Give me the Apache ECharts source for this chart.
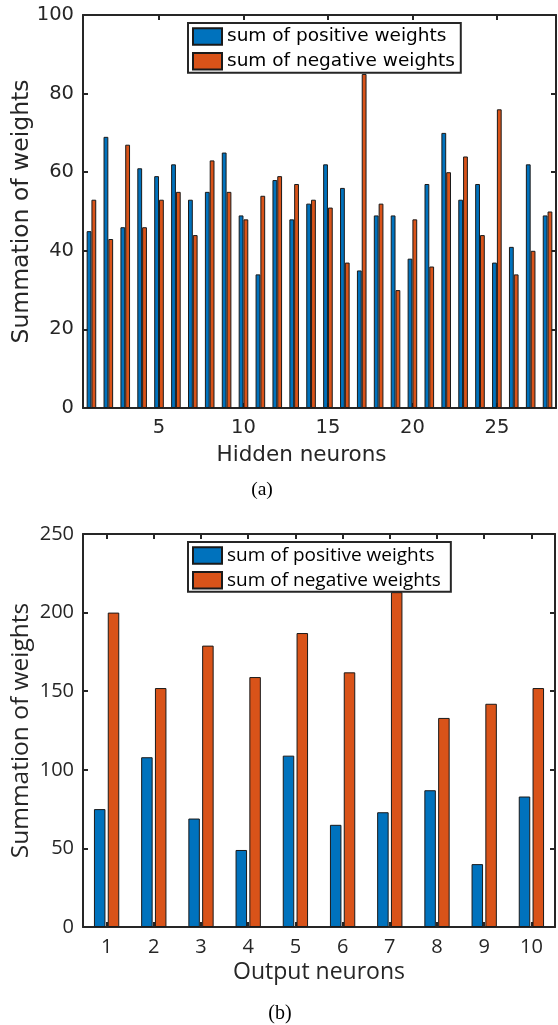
<!DOCTYPE html>
<html>
<head>
<meta charset="utf-8">
<script src="https://cdn.jsdelivr.net/npm/echarts@6/dist/echarts.min.js"></script>
<style>
html,body{margin:0;padding:0;background:#fff;}
#chart{width:558px;height:1025px;}
</style>
</head>
<body>
<div id="chart"></div>
<script>
// ---- data ----
var hiddenCategories = ['1','2','3','4','5','6','7','8','9','10','11','12','13','14','15','16','17','18','19','20','21','22','23','24','25','26','27','28'];
var hiddenPositive = [45,69,46,61,59,62,53,55,65,49,34,58,48,52,62,56,35,49,49,38,57,70,53,57,37,41,62,49];
var hiddenNegative = [53,43,67,46,53,55,44,63,55,48,54,59,57,53,51,37,85,52,30,48,36,60,64,44,76,34,40,50];
var outputCategories = ['1','2','3','4','5','6','7','8','9','10'];
var outputPositive = [75,108,69,49,109,65,73,87,40,83];
var outputNegative = [200,152,179,159,187,162,213,133,142,152];
var seriesNames = ['sum of positive weights','sum of negative weights'];
var topYTicks = {min:0, max:100, interval:20};
var bottomYTicks = {min:0, max:250, interval:50};

// ---- style ----
var BLUE = '#0072BD', ORANGE = '#D95319', AX = '#262626';
var topFont = 'DejaVu Sans', botFont = 'Open Sans';

function catAxis(grid, cats, pos, showLabel, font, fs, labelFn){
  return {
    type:'category', gridIndex:grid, data:cats, position:pos, boundaryGap:true,
    axisLine:{show:true, onZero:false, lineStyle:{color:AX, width:2}},
    axisTick:{show:true, inside:true, length:5, alignWithLabel:true, interval:labelFn, lineStyle:{color:AX, width:2}},
    axisLabel:{show:showLabel, interval:labelFn, color:AX, fontFamily:font, fontSize:fs, margin:10},
    splitLine:{show:false}
  };
}
function valAxis(grid, t, pos, showLabel, font, fs, name, nameFs, nameGap){
  return {
    type:'value', gridIndex:grid, position:pos, min:t.min, max:t.max, interval:t.interval,
    name: name||'', nameLocation:'middle', nameGap:nameGap||0, nameMoveOverlap:false,
    nameTextStyle:{color:AX, fontFamily:font, fontSize:nameFs||20},
    axisLine:{show:true, onZero:false, lineStyle:{color:AX, width:2}},
    axisTick:{show:true, inside:true, length:5, lineStyle:{color:AX, width:2}},
    axisLabel:{show:showLabel, color:AX, fontFamily:font, fontSize:fs, margin:9},
    splitLine:{show:false}
  };
}
var every5 = function(i){ return (i+1)%5===0; };
var every1 = function(){ return true; };

var xA0 = catAxis(0, hiddenCategories, 'bottom', true, topFont, 19.5, every5);
xA0.name = 'Hidden neurons'; xA0.nameLocation='middle'; xA0.nameGap=36;
xA0.nameTextStyle={color:AX, fontFamily:topFont, fontSize:21.5, padding:[0,36,0,0]};
var xA1 = catAxis(0, hiddenCategories, 'top', false, topFont, 19.5, every5);
var xA2 = catAxis(1, outputCategories, 'bottom', true, botFont, 20, every1);
xA2.name = 'Output neurons'; xA2.nameLocation='middle'; xA2.nameGap=34;
xA2.nameTextStyle={color:AX, fontFamily:botFont, fontSize:23};
var xA3 = catAxis(1, outputCategories, 'top', false, botFont, 20, every1);

function barSeries(name, data, xi, yi, color, width, gap){
  return {
    type:'bar', name:name, data:data, xAxisIndex:xi, yAxisIndex:yi,
    barWidth:width, barGap:gap,
    itemStyle:{color:color, borderColor:'#1a1a1a', borderWidth:1},
    emphasis:{disabled:true}, animation:false
  };
}
function legendAt(left, top, font, fs, padRight){
  return {
    left:left, top:top, orient:'vertical', itemWidth:29, itemHeight:16.6, itemGap:5.8,
    padding:[4, padRight, 2, 4], borderColor:AX, borderWidth:2, backgroundColor:'#fff',
    icon:'rect', data:seriesNames, selectedMode:false,
    textStyle:{color:'#000', fontFamily:font, fontSize:fs, lineHeight:16.6}
  };
}

var option = {
  animation:false,
  grid:[
    {left:83, top:15, width:473, height:393, containLabel:false, outerBoundsMode:'none'},
    {left:83, top:534, width:472, height:393, containLabel:false, outerBoundsMode:'none'}
  ],
  xAxis:[xA0, xA1, xA2, xA3],
  yAxis:[
    valAxis(0, topYTicks, 'left', true, topFont, 19.5, 'Summation of weights', 23.5, 49),
    valAxis(0, topYTicks, 'right', false, topFont, 19.5),
    valAxis(1, bottomYTicks, 'left', true, botFont, 20, 'Summation of weights', 24.5, 49),
    valAxis(1, bottomYTicks, 'right', false, botFont, 20)
  ],
  legend:[
    legendAt(188, 23, topFont, 18.5, 6),
    legendAt(188, 542, botFont, 19, 10)
  ],
  series:[
    barSeries(seriesNames[0], hiddenPositive, 0, 0, BLUE, 4.8, '0%'),
    barSeries(seriesNames[1], hiddenNegative, 0, 0, ORANGE, 4.8, '0%'),
    barSeries(seriesNames[0], outputPositive, 2, 2, BLUE, 11.5, '20%'),
    barSeries(seriesNames[1], outputNegative, 2, 2, ORANGE, 11.5, '20%')
  ],
  graphic:[
    {type:'text', style:{text:'(a)', font:'19.5px "Liberation Serif"', fill:'#000', x:262, y:490, textAlign:'center', textVerticalAlign:'middle'}},
    {type:'text', style:{text:'(b)', font:'20px "Liberation Serif"', fill:'#000', x:280, y:1014, textAlign:'center', textVerticalAlign:'middle'}}
  ]
};

var chart = echarts.init(document.getElementById('chart'), null, {renderer:'canvas'});
chart.setOption(option);
</script>
</body>
</html>
